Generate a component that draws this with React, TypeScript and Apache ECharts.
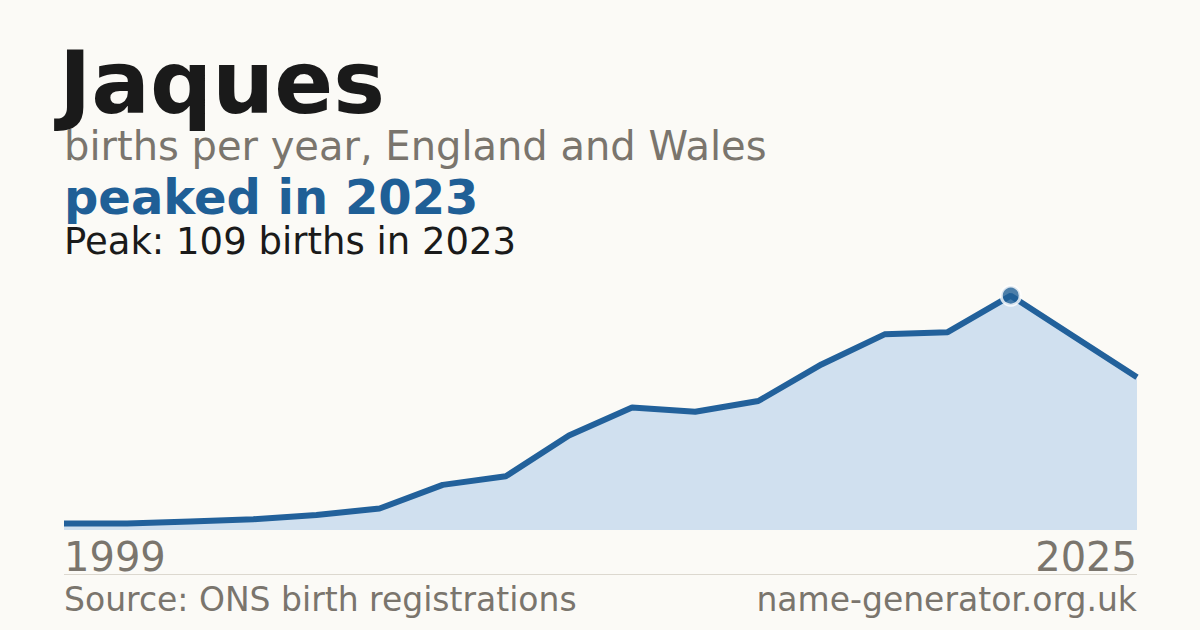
import * as echarts from 'echarts';
import { useEffect, useRef } from 'react';

const years = [
  '1999', '2009', '2010', '2011', '2012', '2013', '2014', '2015', '2016',
  '2017', '2018', '2019', '2020', '2021', '2022', '2023', '2024', '2025',
];
const births = [3, 3, 4, 5, 7, 10, 21, 25, 44, 57, 55, 60, 77, 91, 92, 109, 90, 71];

const FONT = "'DejaVu Sans', sans-serif";
const GREY = '#7a756d';
const BLUE = '#1f5f96';

export default function App() {
  const chartRef = useRef<HTMLDivElement>(null);

  useEffect(() => {
    if (!chartRef.current) return;
    const chart = echarts.init(chartRef.current, null, { renderer: 'svg' });

    // peak point
    const peakVal = Math.max(...births);
    const peakIdx = births.indexOf(peakVal);

    chart.setOption({
      animation: false,
      backgroundColor: '#fbfaf6',
      grid: { left: 64, right: 63, top: 272, bottom: 100 },
      xAxis: {
        type: 'category',
        data: years,
        boundaryGap: false,
        axisLine: { show: false },
        axisTick: { show: false },
        splitLine: { show: false },
        axisLabel: {
          interval: (i: number) => i === 0 || i === years.length - 1,
          alignMinLabel: 'left',
          alignMaxLabel: 'right',
          verticalAlign: 'middle',
          margin: 27,
          fontSize: 40,
          fontFamily: FONT,
          color: GREY,
        },
      },
      yAxis: { type: 'value', show: false, min: 0, max: 120 },
      series: [
        {
          type: 'line',
          data: births,
          symbol: 'none',
          lineStyle: { width: 6, color: '#22619b' },
          areaStyle: { color: '#d0e0ef', opacity: 1 },
          z: 2,
        },
        {
          type: 'scatter',
          data: [[peakIdx, peakVal]],
          symbol: 'circle',
          symbolSize: 19,
          itemStyle: { color: BLUE, borderColor: '#ffffff', borderWidth: 3 },
          z: 3,
        },
      ],
      graphic: [
        {
          type: 'text', x: 59, y: 83,
          style: { text: 'Jaques', font: `bold 87px ${FONT}`, fill: '#1a1a1a', verticalAlign: 'middle' },
        },
        {
          type: 'text', x: 64, y: 146,
          style: { text: 'births per year, England and Wales', font: `40px ${FONT}`, fill: GREY, verticalAlign: 'middle' },
        },
        {
          type: 'text', x: 64, y: 197,
          style: { text: 'peaked in 2023', font: `bold 48px ${FONT}`, fill: BLUE, verticalAlign: 'middle' },
        },
        {
          type: 'text', x: 64, y: 241,
          style: { text: 'Peak: 109 births in 2023', font: `37px ${FONT}`, fill: '#1a1a1a', verticalAlign: 'middle' },
        },
        {
          type: 'line',
          shape: { x1: 64, y1: 574.5, x2: 1137, y2: 574.5 },
          style: { stroke: '#dcd8cf', lineWidth: 1 },
        },
        {
          type: 'text', x: 64, y: 599,
          style: { text: 'Source: ONS birth registrations', font: `33px ${FONT}`, fill: GREY, verticalAlign: 'middle' },
        },
        {
          type: 'text', x: 1137, y: 599,
          style: { text: 'name-generator.org.uk', font: `33px ${FONT}`, fill: GREY, align: 'right', verticalAlign: 'middle' },
        },
      ],
    });

    return () => {
      chart.dispose();
    };
  }, []);

  return (
    <div
      ref={chartRef}
      style={{ position: 'fixed', left: 0, top: 0, width: '1200px', height: '630px' }}
    />
  );
}
